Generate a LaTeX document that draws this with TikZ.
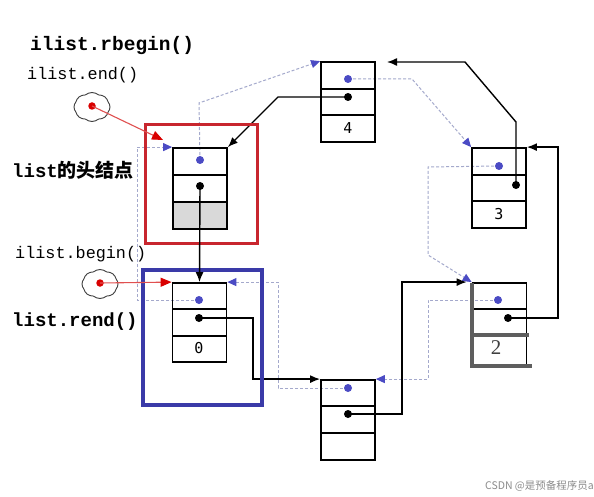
\documentclass[tikz,border=0pt]{standalone}
\usepackage{fontspec}
\setmainfont{Liberation Serif}
\setmonofont{Liberation Mono}
\newfontfamily\cjk{Noto Sans CJK SC}
\newfontfamily\dmono{DejaVu Sans Mono}
\usetikzlibrary{arrows.meta,shapes.symbols,calc,backgrounds}
\definecolor{dotblue}{HTML}{4B4BC4}
\definecolor{dashc}{HTML}{A4A9CC}
\definecolor{redbox}{HTML}{C8262E}
\definecolor{bluebox}{HTML}{3A3AA8}
\definecolor{redline}{HTML}{E05050}
\definecolor{thickgray}{HTML}{5E5E5E}
\tikzset{
  lnode/.style={draw, line width=1.8pt, minimum width=54pt, minimum height=80pt, inner sep=0pt},
  rowline/.style={line width=1.6pt},
  bdot/.style={circle, fill=dotblue, inner sep=0pt, minimum size=8pt},
  kdot/.style={circle, fill=black, inner sep=0pt, minimum size=8pt},
  rdot/.style={circle, fill=red!85!black, inner sep=0pt, minimum size=7.5pt},
  blk/.style={line width=1.4pt, -{Latex[length=10pt,width=8pt]}},
  dsh/.style={dashc, line width=1pt, dash pattern=on 3pt off 2pt, -{Triangle[color=dotblue,length=9pt,width=8pt]}},
  redarr/.style={redline, line width=1.1pt, -{Triangle[color=red!85!black,length=11pt,width=9pt]}},
  cloudy/.style={cloud, cloud puffs=8, cloud puff arc=80, draw=black!75, line width=0.9pt, minimum width=36pt, minimum height=29pt, inner sep=0pt},
  lbl/.style={anchor=west, inner sep=0pt, font=\ttfamily\fontsize{19}{19}\selectfont},
  lbls/.style={anchor=west, inner sep=0pt, font=\ttfamily\fontsize{16.8}{17}\selectfont},
  numtxt/.style={font=\dmono\fontsize{15}{15}\selectfont, inner sep=0pt}
}
\begin{document}
\begin{tikzpicture}[x=1pt,y=-1pt]
\useasboundingbox (0,0) rectangle (594,497);

% highlight boxes
\node[draw=redbox, line width=3pt, minimum width=112pt, minimum height=118pt, inner sep=0pt] (RB) at (201,184) {};
\node[draw=bluebox, line width=3.3pt, minimum width=119pt, minimum height=135pt, inner sep=0pt] (BB) at (202.5,337.5) {};

% head node
\fill[black!15] (173,202) rectangle (227,229);
\node[lnode, minimum height=81pt] (H) at (200,188.5) {};
\draw[rowline] (173,175) -- (227,175) (173,202) -- (227,202);
\node[bdot] (Hb) at (200,160) {};
\node[kdot] (Hk) at (200,186) {};

% node 4
\node[lnode] (N4) at (348,102) {};
\draw[rowline] (321,89) -- (375,89) (321,115) -- (375,115);
\node[bdot] (N4b) at (348,79) {};
\node[kdot] (N4k) at (348,97) {};
\node[numtxt] (T4) at (348,128) {4};

% node 3
\node[lnode] (N3) at (499,188) {};
\draw[rowline] (472,175) -- (526,175) (472,201) -- (526,201);
\node[bdot] (N3b) at (499,166) {};
\node[kdot] (N3k) at (516,185) {};
\node[numtxt] (T3) at (499,214) {3};

% node 0
\node[lnode, minimum height=79pt] (N0) at (199.5,322.5) {};
\draw[rowline] (172,309) -- (227,309) (172,336) -- (227,336);
\node[bdot] (N0b) at (199,300) {};
\node[kdot] (N0k) at (199,318) {};
\node[numtxt] (T0) at (199,348) {0};

% bottom node
\node[lnode] (NB) at (348,420) {};
\draw[rowline] (321,406) -- (375,406) (321,433) -- (375,433);
\node[bdot] (NBb) at (348,388) {};
\node[kdot] (NBk) at (348,414) {};

% node 2
\node[lnode, minimum height=82pt] (N2) at (499.5,324) {};
\draw[rowline] (472,309) -- (527,309);
\draw[thickgray, line width=3.8pt] (472,283) -- (472,366) -- (532,366);
\draw[thickgray, line width=3.8pt] (472,335) -- (529,335);
\node[bdot] (N2b) at (498,300) {};
\node[kdot] (N2k) at (508,318) {};
\node[font=\fontsize{21}{21}\selectfont, text=black!75, inner sep=0pt] (T2) at (496,348) {2};

\begin{scope}[on background layer]
\fill[white] (0,0) rectangle (594,497);
% dashed (previous) links
\draw[dsh] (Hb.center) -- (199,103) -- (N4.north west);
\draw[dsh] (N4b.center) -- (412,79) -- (N3.north west);
\draw[dsh] (N3b.center) -- (428,167) -- (428,255) -- (N2.north west);
\draw[dsh] (N2b.center) -- (428,300) |- (NB.north east);
\draw[dsh] (NBb.center) -- (278,388) |- (N0.north east);
\draw[dsh] (N0b.center) -- (137,300) |- (H.north west);

% solid (next) links
\coordinate (e4) at (387,62);
\draw[blk] (N4k.center) -- (278,97) -- (H.north east);
\draw[blk] (N0k.center) -- (253,318) |- (NB.north west);
\draw[blk, shorten >=5pt] (NBk.center) -- (402,414) |- (N2.north west);
\draw[blk] (N2k.center) -- (558,318) |- (N3.north east);
\draw[blk] (N3k.center) -- (516,122) -- (465,62) -- (e4);
\end{scope}
\draw[blk] (Hk.center) -- (N0.north);

% iterators
\node[cloudy] (C1) at (92,107) {};
\node[rdot] (R1) at (92,106) {};
\coordinate (r1) at (163,140);
\draw[redarr] (R1.center) -- (r1);
\node[cloudy] (C2) at (100,284) {};
\node[rdot] (R2) at (100,283) {};
\draw[redarr] (R2.center) -- (N0.north west);

% labels
\node[lbl, font=\ttfamily\bfseries\fontsize{19.5}{20}\selectfont] (L1) at (30,46) {ilist.rbegin()};
\node[lbls] (L2) at (27,75) {ilist.end()};
\node[lbl] (L3) at (12,170) {{\bfseries list}{\cjk\bfseries 的头结点}};
\node[lbls] (L4) at (15,254) {ilist.begin()};
\node[lbl, font=\ttfamily\bfseries\fontsize{19}{19}\selectfont] (L5) at (12,322) {list.rend()};

% watermark
\node[anchor=east, inner sep=0pt, text=black!45, font=\cjk\fontsize{10.5}{11}\selectfont] (WM) at (594,486) {CSDN @是预备程序员a};
\end{tikzpicture}
\end{document}
